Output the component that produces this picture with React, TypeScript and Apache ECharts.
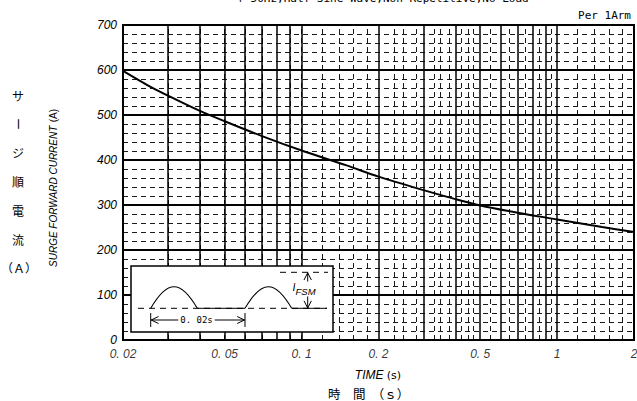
import React, { useEffect, useRef } from "react";
import * as echarts from "echarts";

// ---- data ----
const CURVE_T = [0.02, 0.025, 0.03, 0.04, 0.05, 0.07, 0.1, 0.15, 0.2, 0.3, 0.4, 0.5, 0.7, 1, 1.5, 2];
const CURVE_A = [598, 566, 543, 509, 486, 453, 421, 388, 363, 333, 313, 299, 283, 268, 251, 240];

const MAJOR_T = [0.03, 0.04, 0.05, 0.06, 0.07, 0.08, 0.09, 0.1, 0.2, 0.3, 0.4, 0.5, 0.6, 0.7, 0.8, 0.9, 1];
const MINOR_T = [
  0.022, 0.024, 0.026, 0.028, 0.0325, 0.035, 0.0375, 0.0425, 0.045, 0.0475,
  0.055, 0.065, 0.075, 0.085, 0.095,
  0.12, 0.14, 0.16, 0.18, 0.225, 0.25, 0.275, 0.325, 0.35, 0.375, 0.425, 0.45, 0.475,
  0.55, 0.65, 0.75, 0.85, 0.95,
  1.2, 1.4, 1.6, 1.8,
];

const X_LABEL_T = [0.02, 0.05, 0.1, 0.2, 0.5, 1, 2];
const X_LABEL_TEXT = ["0. 02", "0. 05", "0. 1", "0. 2", "0. 5", "1", "2"];

const Y_MIN = 0;
const Y_MAX = 700;
const Y_STEP = 100;

const TITLE = "f=50Hz,Half Sine Wave,Non-Repetitive,No Load";
const NOTE = "Per 1Arm";
const Y_NAME_EN = "SURGE FORWARD CURRENT";
const Y_NAME_JP = ["サ", "ー", "ジ", "順", "電", "流", "（Ａ）"];
const X_NAME_EN = "TIME";
const X_NAME_JP = "時　間　（ｓ）";

const NARROW = '"Liberation Sans", Arial, sans-serif';
const MONO = '"DejaVu Sans Mono", "Liberation Mono", monospace';
const JP = '"Noto Sans CJK JP", sans-serif';

export default function App() {
  const ref = useRef<HTMLDivElement | null>(null);

  useEffect(() => {
    if (!ref.current) return;
    const chart = echarts.init(ref.current, null, { renderer: "svg" });

    const black = "#000";
    const Z = 100;
    const hump = (x0: number, x1: number) => {
      const base = 308.3;
      const h = 21.6;
      const w = x1 - x0;
      const cy = base - h / 0.75;
      return {
        type: "bezierCurve", z: Z + 2,
        shape: { x1: x0, y1: base, x2: x1, y2: base, cpx1: x0 + w * 0.36, cpy1: cy, cpx2: x1 - w * 0.36, cpy2: cy },
        style: { stroke: black, fill: null, lineWidth: 1.1 },
      };
    };
    const ln = (x1: number, y1: number, x2: number, y2: number, dash?: number[]) => ({
      type: "line", z: Z + 2,
      shape: { x1, y1, x2, y2 },
      style: dash ? { stroke: black, lineWidth: 1, lineDash: dash } : { stroke: black, lineWidth: 1 },
    });
    const pl = (pts: number[][]) => ({
      type: "polyline", z: Z + 2,
      shape: { points: pts },
      style: { stroke: black, fill: null, lineWidth: 1 },
    });

    const graphic: any[] = [
      // title (cut at the top)
      {
        type: "text", x: 383, y: -1.5, z: Z,
        style: { text: TITLE, fontFamily: MONO, fontSize: 11, fill: black, align: "center", verticalAlign: "middle" },
      },
      {
        type: "text", x: 631, y: 15, z: Z,
        style: { text: NOTE, fontFamily: MONO, fontSize: 11, fill: black, align: "right", verticalAlign: "middle" },
      },
      // y name english (rotated)
      {
        type: "text", x: 53, y: 188, rotation: Math.PI / 2, z: Z,
        style: {
          text: "{i|" + Y_NAME_EN + "} {n|(A)}",
          align: "center", verticalAlign: "middle", fill: black,
          rich: {
            i: { fontFamily: NARROW, fontStyle: "italic", fontSize: 10, fill: black },
            n: { fontFamily: NARROW, fontSize: 10, fill: black },
          },
        },
      },
      // x name
      {
        type: "text", x: 378, y: 375, z: Z,
        style: {
          text: "{i|" + X_NAME_EN + "} {n|(s)}",
          align: "center", verticalAlign: "middle", fill: black,
          rich: {
            i: { fontFamily: NARROW, fontStyle: "italic", fontSize: 12, fill: black },
            n: { fontFamily: "DejaVu Sans", fontSize: 11, fill: black },
          },
        },
      },
      {
        type: "text", x: 328, y: 393, z: Z,
        style: { text: X_NAME_JP, fontFamily: JP, fontSize: 12.5, fill: black, align: "left", verticalAlign: "middle" },
      },
      // inset
      { type: "rect", z: Z + 1, shape: { x: 131, y: 266, width: 202, height: 66 }, style: { fill: "#fff", stroke: black, lineWidth: 1.5 } },
      ln(138, 308.3, 327, 308.3, [6, 5]),
      ln(197.3, 308.3, 245, 308.3),
      ln(291.7, 308.3, 327, 308.3),
      hump(150.7, 197.3),
      hump(245, 291.7),
      ln(280, 272.3, 328, 272.3, [6, 5]),
      ln(307.7, 272.5, 307.7, 308),
      pl([[304, 280], [307.7, 272.8], [311.4, 280]]),
      pl([[304, 300.8], [307.7, 308], [311.4, 300.8]]),
      {
        type: "text", x: 304, y: 289, z: Z + 3,
        style: {
          text: "{a|I}{b|FSM}", fill: black, align: "center", verticalAlign: "middle",
          rich: {
            a: { fontFamily: NARROW, fontStyle: "italic", fontSize: 11, fill: black, padding: [0, 0, 5, 0] },
            b: { fontFamily: NARROW, fontStyle: "italic", fontSize: 9.5, fill: black, backgroundColor: "#fff", padding: [5, 0, 0, 0] },
          },
        },
      },
      ln(150.7, 313, 150.7, 327),
      ln(245, 313, 245, 327),
      ln(151, 320, 244.7, 320),
      pl([[158.5, 316.5], [151.2, 320], [158.5, 323.5]]),
      pl([[237.2, 316.5], [244.5, 320], [237.2, 323.5]]),
      {
        type: "text", x: 196.5, y: 320, z: Z + 3,
        style: {
          text: "0. 02s", fontFamily: MONO, fontSize: 9, fill: black, align: "center", verticalAlign: "middle",
          backgroundColor: "#fff", padding: [0, 2, 0, 2],
        },
      },
    ];

    const jpY = [95, 124, 152, 181, 210, 239, 267];
    Y_NAME_JP.forEach((ch, i) => {
      graphic.push({
        type: "text", x: ch.length > 1 ? 19 : 18, y: jpY[i], z: Z,
        rotation: ch === "ー" ? -Math.PI / 2 : 0,
        style: { text: ch, fontFamily: JP, fontSize: 12, fill: black, align: "center", verticalAlign: "middle" },
      });
    });

    const option: any = {
      animation: false,
      backgroundColor: "#fff",
      grid: {
        left: 123, top: 25, width: 511, height: 315,
        show: true, borderColor: black, borderWidth: 2, backgroundColor: "#fff",
      },
      xAxis: {
        type: "log", logBase: 10, min: 0.02, max: 2,
        axisLine: { show: false }, axisTick: { show: false }, axisLabel: { show: false },
        splitLine: { show: false },
      },
      yAxis: {
        type: "value", min: Y_MIN, max: Y_MAX, interval: Y_STEP,
        axisLine: { show: false }, axisTick: { show: false },
        axisLabel: { fontStyle: "italic", fontFamily: NARROW, fontSize: 12, color: black, margin: 6, lineHeight: 12 },
        splitLine: { show: true, lineStyle: { color: black, width: 1.8 } },
        minorTick: { show: false, splitNumber: 5 },
        minorSplitLine: { show: true, lineStyle: { color: black, width: 0.9, type: [5, 4] } },
      },
      series: [
        {
          type: "line", data: [], silent: true,
          markLine: {
            silent: true, symbol: ["none", "none"], label: { show: false },
            lineStyle: { color: black, width: 0.9, type: [5, 4] },
            emphasis: { disabled: true },
            data: MINOR_T.map((v) => ({ xAxis: v })),
          },
        },
        {
          type: "line", data: [], silent: true,
          markLine: {
            silent: true, symbol: ["none", "none"], label: { show: false },
            lineStyle: { color: black, width: 1.5, type: "solid" },
            emphasis: { disabled: true },
            data: MAJOR_T.map((v) => ({ xAxis: v })),
          },
        },
        {
          type: "line", z: 20,
          data: CURVE_T.map((t, i) => [t, CURVE_A[i]]),
          smooth: 0.3, showSymbol: false, symbol: "none",
          lineStyle: { color: black, width: 2 },
        },
        {
          type: "scatter", symbolSize: 0.01, silent: true, clip: false,
          data: X_LABEL_T.map((t, i) => ({ value: [t, 0], name: X_LABEL_TEXT[i] })),
          label: {
            show: true, position: "bottom", distance: 8, formatter: (p: any) => p.name,
            fontStyle: "italic", fontFamily: NARROW, fontSize: 12, lineHeight: 12, color: black,
          },
        },
      ],
      graphic,
    };

    chart.setOption(option);
    return () => chart.dispose();
  }, []);

  return (
    <div
      ref={ref}
      style={{ position: "fixed", left: 0, top: 0, width: 637, height: 401, background: "#fff" }}
    />
  );
}
